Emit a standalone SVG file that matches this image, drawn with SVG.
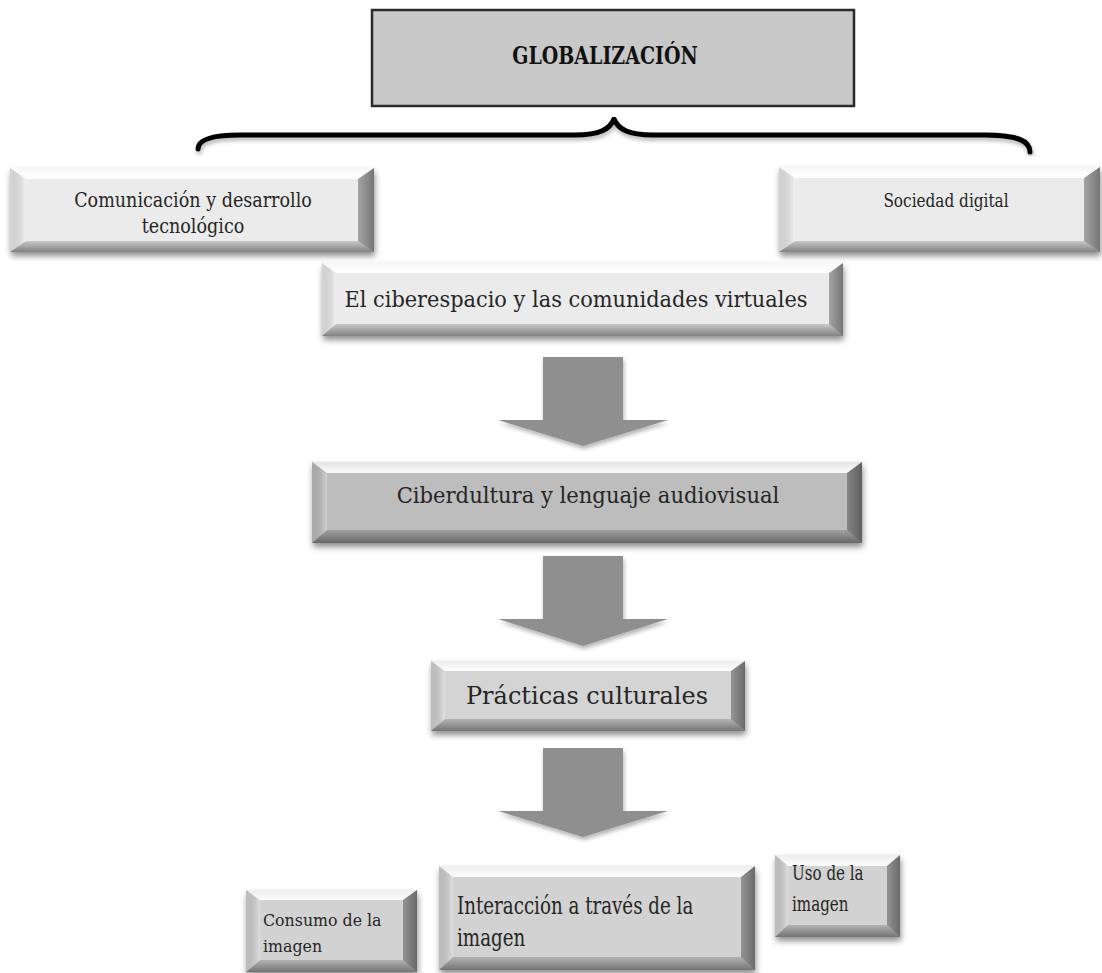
<svg xmlns="http://www.w3.org/2000/svg" width="1102" height="973" viewBox="0 0 1102 973">
  <style>
    .lbl { font-family: "DejaVu Serif", "Liberation Serif", serif; fill: #262626; }
    .mid { text-anchor: middle; }
    .title { font-family: "DejaVu Serif", "Liberation Serif", serif; font-weight: bold; fill: #111; text-anchor: middle; }
    .base { filter: url(#shadow); }
    .bv-t { fill: url(#gTop); }
    .bv-l { fill: url(#gLeft); }
    .bv-r { fill: url(#gRight); }
    .bv-b { fill: url(#gBot); }
    .arrow { fill: #8f8f8f; filter: url(#soft); }
    .brace { fill: none; stroke: #000; stroke-width: 5; stroke-linecap: round; stroke-linejoin: round; filter: url(#soft); }
  </style>
  <defs>
    <filter id="shadow" x="-5%" y="-10%" width="112%" height="130%">
      <feGaussianBlur in="SourceAlpha" stdDeviation="3"/>
      <feOffset dx="1" dy="4" result="b"/>
      <feComponentTransfer><feFuncA type="linear" slope="0.45"/></feComponentTransfer>
      <feMerge><feMergeNode/><feMergeNode in="SourceGraphic"/></feMerge>
    </filter>
    <filter id="soft" x="-5%" y="-5%" width="110%" height="115%">
      <feGaussianBlur in="SourceAlpha" stdDeviation="2"/>
      <feOffset dx="1" dy="3"/>
      <feComponentTransfer><feFuncA type="linear" slope="0.3"/></feComponentTransfer>
      <feMerge><feMergeNode/><feMergeNode in="SourceGraphic"/></feMerge>
    </filter>
    <linearGradient id="gTop" x1="0" y1="0" x2="0" y2="1">
      <stop offset="0" stop-color="#fff" stop-opacity="0.6"/>
      <stop offset="1" stop-color="#fff" stop-opacity="0.95"/>
    </linearGradient>
    <linearGradient id="gLeft" x1="0" y1="0" x2="1" y2="0">
      <stop offset="0" stop-color="#000" stop-opacity="0.1"/>
      <stop offset="1" stop-color="#fff" stop-opacity="0.3"/>
    </linearGradient>
    <linearGradient id="gRight" x1="0" y1="0" x2="1" y2="0">
      <stop offset="0" stop-color="#000" stop-opacity="0.3"/>
      <stop offset="1" stop-color="#000" stop-opacity="0.5"/>
    </linearGradient>
    <linearGradient id="gBot" x1="0" y1="0" x2="0" y2="1">
      <stop offset="0" stop-color="#000" stop-opacity="0.15"/>
      <stop offset="1" stop-color="#000" stop-opacity="0.45"/>
    </linearGradient>
  </defs>

  <rect width="1102" height="973" fill="#fff"/>

  <!-- top heading box -->
  <g id="n-globalizacion">
    <rect x="372" y="10" width="482" height="96" fill="#c8c8c8" stroke="#2b2b2b" stroke-width="2.5"/>
    <g transform="translate(605,0) scale(0.775,1)">
      <text class="title" x="0" y="64" font-size="24.5">GLOBALIZACIÓN</text>
    </g>
  </g>

  <!-- connectors: brace and block arrows -->
  <g id="connectors">
    <path class="brace" d="M198,149 C198,140 210,135 240,135 L575,135 C600,135 610,129 614,119 C618,129 628,135 653,135 L985,135 C1018,135 1030,141 1030,152"/>
    <polygon class="arrow" points="543,357 623,357 623,420 668,420 583,446 498,420 543,420"/>
    <polygon class="arrow" points="543,556 623,556 623,619 668,619 583,646 498,619 543,619"/>
    <polygon class="arrow" points="543,748 623,748 623,811 668,811 583,837 498,811 543,811"/>
  </g>

  <g id="n-comunicacion">
    <rect class="base" x="10" y="168" width="364" height="84" fill="#ebebeb"/>
    <polygon class="bv-t" points="10,168 374,168 358,179 26,179"/>
    <polygon class="bv-l" points="10,168 26,179 26,241 10,252"/>
    <polygon class="bv-r" points="374,168 374,252 358,241 358,179"/>
    <polygon class="bv-b" points="10,252 374,252 358,241 26,241"/>
    <g transform="translate(193,0) scale(0.9,1)">
      <text class="lbl mid" x="0" y="207" font-size="19.5">Comunicación y desarrollo</text>
      <text class="lbl mid" x="0" y="233" font-size="19.5">tecnológico</text>
    </g>
  </g>

  <g id="n-sociedad">
    <rect class="base" x="779" y="167" width="321" height="85" fill="#ebebeb"/>
    <polygon class="bv-t" points="779,167 1100,167 1084,178 795,178"/>
    <polygon class="bv-l" points="779,167 795,178 795,241 779,252"/>
    <polygon class="bv-r" points="1100,167 1100,252 1084,241 1084,178"/>
    <polygon class="bv-b" points="779,252 1100,252 1084,241 795,241"/>
    <g transform="translate(946,0) scale(0.85,1)">
      <text class="lbl mid" x="0" y="207" font-size="18">Sociedad digital</text>
    </g>
  </g>

  <g id="n-ciberespacio">
    <rect class="base" x="322" y="263" width="521" height="73" fill="#ebebeb"/>
    <polygon class="bv-t" points="322,263 843,263 829,273 336,273"/>
    <polygon class="bv-l" points="322,263 336,273 336,324 322,336"/>
    <polygon class="bv-r" points="843,263 843,336 829,324 829,273"/>
    <polygon class="bv-b" points="322,336 843,336 829,324 336,324"/>
    <g transform="translate(576,0) scale(0.95,1)">
      <text class="lbl mid" x="0" y="307" font-size="22">El ciberespacio y las comunidades virtuales</text>
    </g>
  </g>

  <g id="n-cibercultura">
    <rect class="base" x="312" y="462" width="550" height="81" fill="#bdbdbd"/>
    <polygon class="bv-t" points="312,462 862,462 847,473 327,473"/>
    <polygon class="bv-l" points="312,462 327,473 327,530 312,543"/>
    <polygon class="bv-r" points="862,462 862,543 847,530 847,473"/>
    <polygon class="bv-b" points="312,543 862,543 847,530 327,530"/>
    <g transform="translate(588,0) scale(0.96,1)">
      <text class="lbl mid" x="0" y="503" font-size="22">Ciberdultura y lenguaje audiovisual</text>
    </g>
  </g>

  <g id="n-practicas">
    <rect class="base" x="431" y="661" width="314" height="70" fill="#d4d4d4"/>
    <polygon class="bv-t" points="431,661 745,661 731,671 445,671"/>
    <polygon class="bv-l" points="431,661 445,671 445,719 431,731"/>
    <polygon class="bv-r" points="745,661 745,731 731,719 731,671"/>
    <polygon class="bv-b" points="431,731 745,731 731,719 445,719"/>
    <text class="lbl mid" x="587" y="704" font-size="24">Prácticas culturales</text>
  </g>

  <g id="n-consumo">
    <rect class="base" x="246" y="890" width="171" height="82" fill="#d2d2d2"/>
    <polygon class="bv-t" points="246,890 417,890 403,900 260,900"/>
    <polygon class="bv-l" points="246,890 260,900 260,960 246,972"/>
    <polygon class="bv-r" points="417,890 417,972 403,960 403,900"/>
    <polygon class="bv-b" points="246,972 417,972 403,960 260,960"/>
    <g transform="translate(263,0) scale(0.93,1)">
      <text class="lbl" x="0" y="926" font-size="17">Consumo de la</text>
      <text class="lbl" x="0" y="952" font-size="17">imagen</text>
    </g>
  </g>

  <g id="n-interaccion">
    <rect class="base" x="439" y="866" width="316" height="104" fill="#d2d2d2"/>
    <polygon class="bv-t" points="439,866 755,866 741,877 453,877"/>
    <polygon class="bv-l" points="439,866 453,877 453,957 439,970"/>
    <polygon class="bv-r" points="755,866 755,970 741,957 741,877"/>
    <polygon class="bv-b" points="439,970 755,970 741,957 453,957"/>
    <g transform="translate(457,0) scale(0.73,1)">
      <text class="lbl" x="0" y="914" font-size="25">Interacción a través de la</text>
      <text class="lbl" x="0" y="946" font-size="25">imagen</text>
    </g>
  </g>

  <g id="n-uso">
    <rect class="base" x="775" y="855" width="125" height="82" fill="#d2d2d2"/>
    <polygon class="bv-t" points="775,855 900,855 887,866 788,866"/>
    <polygon class="bv-l" points="775,855 788,866 788,925 775,937"/>
    <polygon class="bv-r" points="900,855 900,937 887,925 887,866"/>
    <polygon class="bv-b" points="775,937 900,937 887,925 788,925"/>
    <g transform="translate(792,0) scale(0.72,1)">
      <text class="lbl" x="0" y="880" font-size="21">Uso de la</text>
      <text class="lbl" x="0" y="911" font-size="21">imagen</text>
    </g>
  </g>
</svg>
